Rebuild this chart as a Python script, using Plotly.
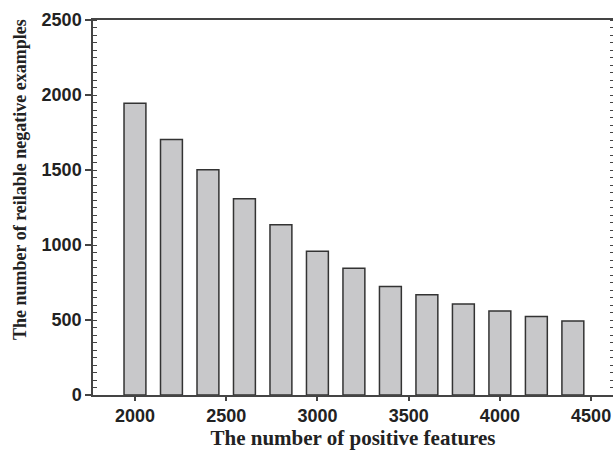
import plotly.graph_objects as go

features = [2000, 2200, 2400, 2600, 2800, 3000, 3200, 3400, 3600, 3800, 4000, 4200, 4400]
negatives = [1945, 1704, 1502, 1309, 1135, 958, 845, 723, 668, 607, 560, 524, 493]
x_ticks = [2000, 2500, 3000, 3500, 4000, 4500]
y_ticks = [0, 500, 1000, 1500, 2000, 2500]

fig = go.Figure()
fig.add_trace(go.Bar(
    x=features, y=negatives, width=120,
    marker=dict(color="#c8c8ca", line=dict(color="#333333", width=1.5)),
))
# invisible companion trace so the right-hand (mirrored) axis is drawn
fig.add_trace(go.Scatter(x=features, y=negatives, yaxis="y2", mode="none",
                         hoverinfo="skip", showlegend=False))

tick_font = dict(family="Liberation Sans", size=18, color="#222222")

fig.update_layout(
    width=614, height=450,
    margin=dict(l=93, r=1, t=20, b=55, autoexpand=False),
    paper_bgcolor="white", plot_bgcolor="white",
    showlegend=False,
    xaxis=dict(
        range=[1770, 4620], tickvals=x_ticks, ticktext=[f"<b>{v}</b>" for v in x_ticks],
        ticks="outside", ticklen=4, tickwidth=1.5, tickcolor="#444444",
        showline=True, linecolor="#444444", linewidth=1.5, mirror=True,
        showgrid=False, zeroline=False, tickfont=tick_font,
        title=dict(text="<b>The number of positive features</b>",
                   font=dict(family="Liberation Serif", size=21, color="#222222"), standoff=2),
    ),
    yaxis=dict(
        range=[0, 2500], tickvals=y_ticks, ticktext=[f"<b>{v}</b>" for v in y_ticks],
        ticks="outside", ticklen=6, tickwidth=1.5, tickcolor="#444444",
        minor=dict(ticks="inside", dtick=50, ticklen=4, tickwidth=1, tickcolor="#444444"),
        showline=True, linecolor="#444444", linewidth=1.5,
        showgrid=False, zeroline=False, tickfont=tick_font,
    ),
    yaxis2=dict(
        range=[0, 2500], overlaying="y", side="right", showticklabels=False,
        ticks="", showgrid=False, zeroline=False, showline=False,
        tickvals=y_ticks,
        minor=dict(ticks="inside", dtick=50, ticklen=3, tickwidth=1, tickcolor="#444444"),
    ),
    annotations=[dict(
        text="<b>The number of reilable negative examples</b>",
        textangle=-90, xref="paper", yref="paper",
        x=(20 - 93) / 520, y=(395 - 180) / 375, xanchor="center", yanchor="middle",
        showarrow=False,
        font=dict(family="Liberation Serif", size=18, color="#222222"),
    )],
)

fig.write_html("out.html", config={"displayModeBar": False},
               post_script="document.body.style.margin='0';")
